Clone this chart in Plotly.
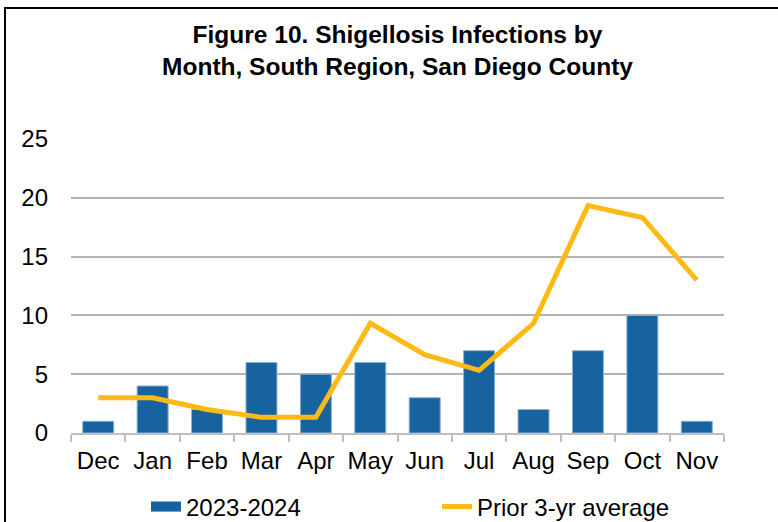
import plotly.graph_objects as go

months = ["Dec", "Jan", "Feb", "Mar", "Apr", "May", "Jun", "Jul", "Aug", "Sep", "Oct", "Nov"]
cases_2023_2024 = [1, 4, 2, 6, 5, 6, 3, 7, 2, 7, 10, 1]
prior_3yr_avg = [3.0, 3.0, 2.0, 1.33, 1.33, 9.33, 6.67, 5.33, 9.33, 19.33, 18.33, 13.0]
y_ticks = [0, 5, 10, 15, 20, 25]

W, H = 778, 522
ML, MR, MT, MB = 71, 54, 139, 89
pw, ph = W - ML - MR, H - MT - MB
BAR_BLUE = "#1763A0"
GOLD = "#FFB915"

fig = go.Figure()
fig.add_trace(go.Bar(
    x=months, y=cases_2023_2024, name="2023-2024", showlegend=False, legendgroup="a",
    marker=dict(color=BAR_BLUE, line=dict(color="#8DB3D6", width=1)),
))
# legend key for the bars (wide rectangle like the original)
fig.add_trace(go.Scatter(
    x=[None], y=[None], name="2023-2024", mode="lines", legendgroup="a",
    line=dict(color=BAR_BLUE, width=13),
))
fig.add_trace(go.Scatter(
    x=months, y=prior_3yr_avg, name="Prior 3-yr average", mode="lines",
    line=dict(color=GOLD, width=5),
))

font = "Liberation Sans, Arial, sans-serif"
fig.update_layout(
    width=W, height=H,
    margin=dict(l=ML, r=MR, t=MT, b=MB, autoexpand=False),
    paper_bgcolor="white", plot_bgcolor="white",
    bargap=0.43,
    font=dict(family=font, size=24, color="black"),
    title=dict(
        text="<b>Figure 10. Shigellosis Infections by<br>Month, South Region, San Diego County</b>",
        x=0.5, xref="paper", xanchor="center",
        y=1 - 43 / H, yref="container", yanchor="middle",
        font=dict(family=font, size=24.5, color="black"),
    ),
    showlegend=True,
    legend=dict(
        orientation="h", x=(146 - ML) / pw, xanchor="left",
        y=-(507 - (MT + ph)) / ph, yanchor="middle",
        entrywidth=246, entrywidthmode="pixels",
        font=dict(size=24), traceorder="normal",
        bgcolor="rgba(0,0,0,0)",
    ),
    xaxis=dict(
        showline=True, linecolor="#BFBFBF", linewidth=2, tickangle=0,
        ticks="outside", tickson="boundaries", ticklen=7, tickcolor="#BFBFBF", tickwidth=2,
        showgrid=False, tickfont=dict(size=24), automargin=False, ticklabelstandoff=5,
    ),
    yaxis=dict(
        range=[0, 25], tickvals=y_ticks, showgrid=True, gridcolor="#B3B3B3", gridwidth=1.5,
        showline=False, zeroline=False, ticks="", ticklabelstandoff=22,
        tickfont=dict(size=24), automargin=False,
    ),
    shapes=[dict(
        type="rect", xref="paper", yref="paper",
        x0=(5 - ML) / pw, x1=(W + 20 - ML) / pw,
        y0=-(H + 20 - MT - ph) / ph, y1=1 + (MT - 8) / ph,
        line=dict(color="black", width=2), fillcolor="rgba(0,0,0,0)", layer="below",
    )],
)

fig.write_html("out.html", config={"displayModeBar": False},
               post_script="document.body.style.margin='0';")
